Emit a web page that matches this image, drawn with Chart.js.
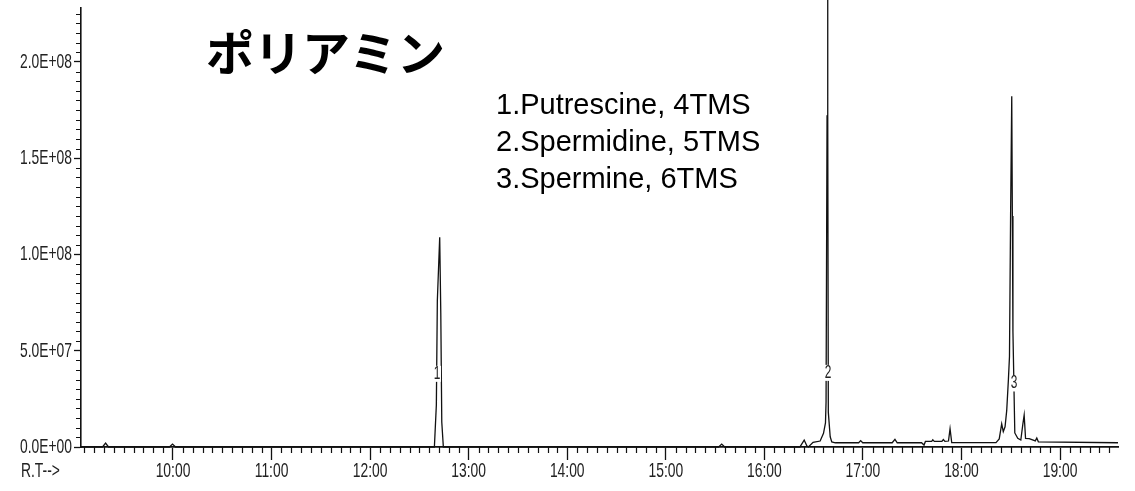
<!DOCTYPE html>
<html><head><meta charset="utf-8">
<script src="https://cdn.jsdelivr.net/npm/chart.js@4.4.1/dist/chart.umd.min.js"></script>
<style>
html,body{margin:0;padding:0;background:#fff;}
#wrap{position:relative;width:1135px;height:491px;overflow:hidden;background:#fff;}
canvas{position:absolute;left:0;top:0;}
#title{position:absolute;left:206px;top:22px;font-family:"Noto Sans CJK JP";font-weight:bold;font-size:48px;line-height:56px;color:#000;white-space:nowrap;}
#legend{position:absolute;left:496px;top:86px;font-family:"Liberation Sans",Arial,sans-serif;font-size:29px;line-height:37px;color:#000;white-space:nowrap;}
</style></head>
<body><div id="wrap"><canvas id="c" width="1135" height="491"></canvas>
<div id="title"></div>
<div id="legend"></div></div>
<script>
// Retention time (min) and abundance
const retentionTime = [9.0666,9.285,9.316,9.346,9.964,9.995,10.026,12.652,12.672,12.682,12.706,12.717,12.727,12.743,
  15.536,15.567,15.598,16.360,16.404,16.432,16.447,16.494,16.566,16.600,16.620,16.626,16.636,16.641,16.645,16.649,16.668,16.684,16.720,
  16.957,16.977,16.998,17.297,17.325,17.348,17.595,17.620,17.634,17.698,17.709,17.724,17.801,17.816,17.832,17.868,17.884,17.901,
  18.350,18.383,18.408,18.424,18.442,18.459,18.476,18.487,18.498,18.510,18.516,18.522,18.541,18.571,18.602,18.623,18.636,18.650,
  18.687,18.749,18.764,18.780,19.588];
const abundance = [0,0,2.0e6,0,0,1.5e6,0,0,2.18e7,7.6e7,1.09e8,6.96e7,1.3e7,0,
  0,1.5e6,0,0,3.6e6,5e5,0,2.4e6,3.1e6,7.1e6,1.25e7,2.35e7,1.72e8,2.5e8,1.72e8,1.8e7,5.3e6,2.6e6,2.2e6,
  2.2e6,3.3e6,2.2e6,2.2e6,4.0e6,2.2e6,2.2e6,1.0e6,2.9e6,2.9e6,3.7e6,2.9e6,2.9e6,3.9e6,2.9e6,3.1e6,9.5e6,2.3e6,
  2.3e6,4.2e6,1.2e7,8e6,1.05e7,1.9e7,3.5e7,4.7e7,1.19e8,1.822e8,1.2e8,6.0e7,7.3e6,4.5e6,3.6e6,1.2e7,1.66e7,4.5e6,
  4.3e6,3.2e6,4.7e6,2.7e6,2.2e6];
const xTickValues = [10,11,12,13,14,15,16,17,18,19];
const xTickLabels = ['10:00','11:00','12:00','13:00','14:00','15:00','16:00','17:00','18:00','19:00'];
const yTickValues = [0,5e7,1e8,1.5e8,2e8];
const yTickLabels = ['0.0E+00','5.0E+07','1.0E+08','1.5E+08','2.0E+08'];
const xAxisLabel = 'R.T-->';
const titleText = 'ポリアミン';
const compounds = ['1.Putrescine, 4TMS','2.Spermidine, 5TMS','3.Spermine, 6TMS'];
const peakNumbers = ['1','2','3'];
const peakNumberRT = [12.679,16.646,18.533];
const peakNumberAbundance = [3.8e7,3.85e7,3.3e7];

document.getElementById('title').textContent = titleText;
const lg = document.getElementById('legend');
compounds.forEach(c=>{const d=document.createElement('div');d.textContent=c;lg.appendChild(d);});

const INK = '#111';
const LABEL_FONT = '21px "Liberation Sans Narrow", "Liberation Sans", sans-serif';
const SX = 0.66;

function condensedText(ctx, text, x, y, align){
  ctx.save();
  ctx.translate(x, y);
  ctx.scale(SX, 1);
  ctx.textAlign = align;
  ctx.textBaseline = 'middle';
  ctx.fillText(text, 0, 0);
  ctx.restore();
}

const axisDecor = {
  id:'axisDecor',
  afterDraw(chart){
    const ctx = chart.ctx, xs = chart.scales.x, ys = chart.scales.y;
    const y0 = ys.getPixelForValue(0);
    const xl = xs.left;
    ctx.save();
    ctx.strokeStyle = INK; ctx.lineWidth = 1.2;
    ctx.beginPath();
    for(let k=Math.ceil(xs.min*10); k<=Math.floor(xs.max*10); k++){
      if(k%10===0) continue;
      const px = Math.round(xs.getPixelForValue(k/10))+0.5;
      ctx.moveTo(px, y0); ctx.lineTo(px, y0+6);
    }
    for(let k=1; k*5e6<=ys.max; k++){
      if(k%10===0) continue;
      const py = Math.round(ys.getPixelForValue(k*5e6))+0.5;
      ctx.moveTo(xl-5, py); ctx.lineTo(xl, py);
    }
    ctx.stroke();
    ctx.fillStyle = '#222';
    ctx.font = LABEL_FONT;
    xTickValues.forEach((v,i)=>condensedText(ctx, xTickLabels[i], xs.getPixelForValue(v), 471, 'center'));
    yTickValues.forEach((v,i)=>condensedText(ctx, yTickLabels[i], xl-9, ys.getPixelForValue(v), 'right'));
    condensedText(ctx, xAxisLabel, 21, 471, 'left');
    ctx.font = '18px "Liberation Sans Narrow", "Liberation Sans", sans-serif';
    peakNumbers.forEach((t,i)=>{
      const px = xs.getPixelForValue(peakNumberRT[i]);
      const py = ys.getPixelForValue(peakNumberAbundance[i]);
      ctx.fillStyle = '#fff';
      ctx.fillRect(px-4, py-8, 8, 16);
      ctx.fillStyle = '#222';
      condensedText(ctx, t, px, py, 'center');
    });
    ctx.restore();
  }
};

new Chart(document.getElementById('c').getContext('2d'), {
  type:'line',
  data:{datasets:[{
    data: retentionTime.map((t,i)=>({x:t, y:abundance[i]})),
    borderColor: INK, borderWidth: 1.3, pointRadius: 0, tension: 0, fill: false, clip: false
  }]},
  options:{
    responsive:false, animation:false, devicePixelRatio:1,
    layout:{padding:{left:0,right:17,top:8,bottom:0}},
    plugins:{legend:{display:false}, tooltip:{enabled:false}},
    scales:{
      x:{type:'linear', min:9.0666, max:19.588,
        afterBuildTicks: s=>{ s.ticks = xTickValues.map(v=>({value:v})); },
        ticks:{display:false},
        grid:{drawOnChartArea:false, drawTicks:true, tickLength:13, color:INK, tickWidth:1.3},
        border:{color:INK, width:1.8},
        afterFit: s=>{ s.height = 44; }
      },
      y:{type:'linear', min:0, max:2.2805e8,
        afterBuildTicks: s=>{ s.ticks = yTickValues.map(v=>({value:v})); },
        ticks:{display:false},
        grid:{drawOnChartArea:false, drawTicks:true, tickLength:7, color:INK, tickWidth:1.3},
        border:{color:INK, width:1.6},
        afterFit: s=>{ s.width = 81; }
      }
    }
  },
  plugins:[axisDecor]
});
</script>
</body></html>
